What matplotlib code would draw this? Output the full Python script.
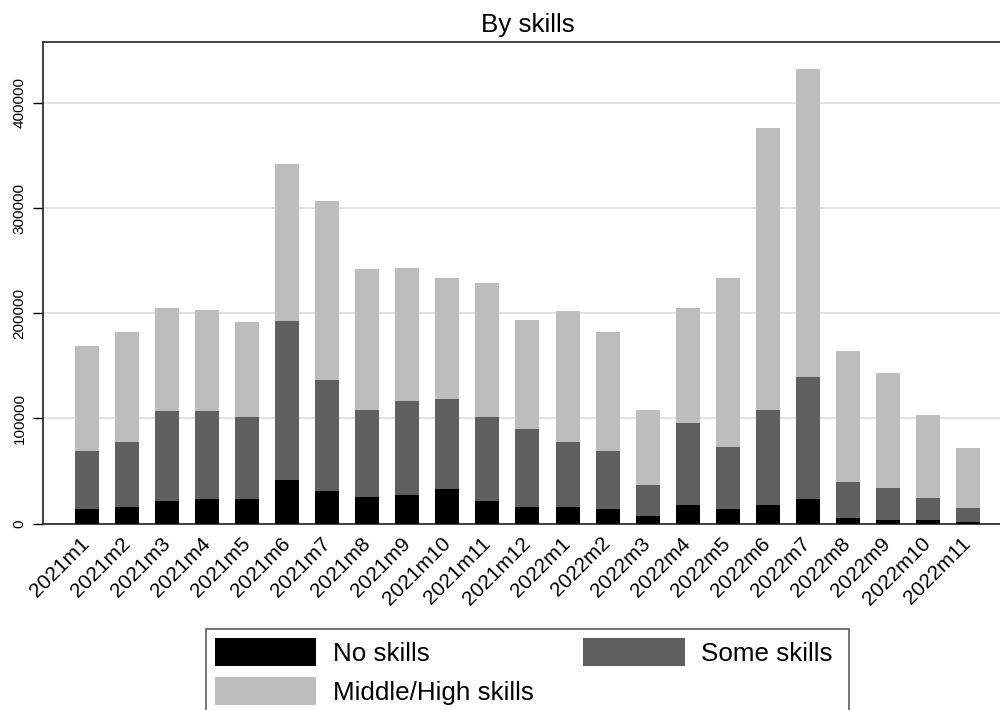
import matplotlib
matplotlib.use("Agg")
import matplotlib.pyplot as plt
import numpy as np

plt.rcParams['font.family'] = ['Liberation Sans', 'DejaVu Sans']

# Months and stacked values
months = ['2021m1', '2021m2', '2021m3', '2021m4', '2021m5', '2021m6',
          '2021m7', '2021m8', '2021m9', '2021m10', '2021m11', '2021m12',
          '2022m1', '2022m2', '2022m3', '2022m4', '2022m5', '2022m6',
          '2022m7', '2022m8', '2022m9', '2022m10', '2022m11']

no_skills = [13600, 15800, 21900, 23400, 23400, 41800, 30700, 25700, 27200,
             32900, 21900, 16200, 15500, 13900, 7200, 17700, 14300, 18100,
             23800, 5700, 3100, 3100, 1500]
# cumulative tops (no + some)
some_top = [69000, 78000, 107400, 106700, 101700, 192300, 136900, 107700,
            116900, 118800, 101000, 89900, 77900, 68700, 36400, 96000, 72800,
            107700, 139100, 39300, 33800, 24700, 14800]
# cumulative tops (total)
total = [168800, 182500, 204700, 203000, 192000, 341800, 306400, 242000,
         242700, 233800, 228400, 193900, 202100, 182500, 108000, 205300,
         233800, 375800, 432100, 163800, 143200, 103200, 72200]

some_skills = [t - n for t, n in zip(some_top, no_skills)]
mid_high = [t - s for t, s in zip(total, some_top)]

x = np.arange(len(months))

fig = plt.figure(figsize=(10, 7.1), dpi=100)
ax = fig.add_axes([0.0427, 0.2624, 0.9573, 0.678])

w = 0.6
b1 = ax.bar(x, no_skills, w, color='#000000', label='No skills', zorder=3)
b2 = ax.bar(x, some_skills, w, bottom=no_skills, color='#5f5f5f',
            label='Some skills', zorder=3)
b3 = ax.bar(x, mid_high, w, bottom=some_top, color='#bdbdbd',
            label='Middle/High skills', zorder=3)

ax.set_xlim(-1.106, 22.8)
ax.set_ylim(0, 457600)
ax.set_yticks([0, 100000, 200000, 300000, 400000])
ax.set_yticklabels(['0', '100000', '200000', '300000', '400000'],
                   rotation=90, va='center', fontsize=11)
ax.yaxis.grid(True, color='#e3e3e3', linewidth=1.5, zorder=0)
ax.set_axisbelow(True)
ax.tick_params(axis='y', length=7.5, width=1, pad=4)

ax.set_xticks(x)
ax.set_xticklabels(months, rotation=45, ha='right', va='center',
                   rotation_mode='anchor', fontsize=15)
ax.tick_params(axis='x', length=0, pad=12)

ax.spines['right'].set_visible(False)
for s in ['left', 'bottom', 'top']:
    ax.spines[s].set_linewidth(1.2)
    ax.spines[s].set_color('#222222')

fig.text(0.5275, 1 - 31.7 / 710, 'By skills', ha='center', va='baseline',
         fontsize=18.7)

leg = fig.legend([b1, b3, b2], ['No skills', 'Middle/High skills', 'Some skills '],
                 ncol=2, loc='upper center', bbox_to_anchor=(0.5275, 1 - 629 / 710),
                 fontsize=18.7, frameon=True, fancybox=False, borderaxespad=0,
                 handlelength=3.9, handleheight=1.25, handletextpad=0.65,
                 columnspacing=1.9, labelspacing=0.45, borderpad=0.35)
leg.get_frame().set_edgecolor('#333333')
leg.get_frame().set_linewidth(1.2)

fig.savefig('out.png', dpi=100)
